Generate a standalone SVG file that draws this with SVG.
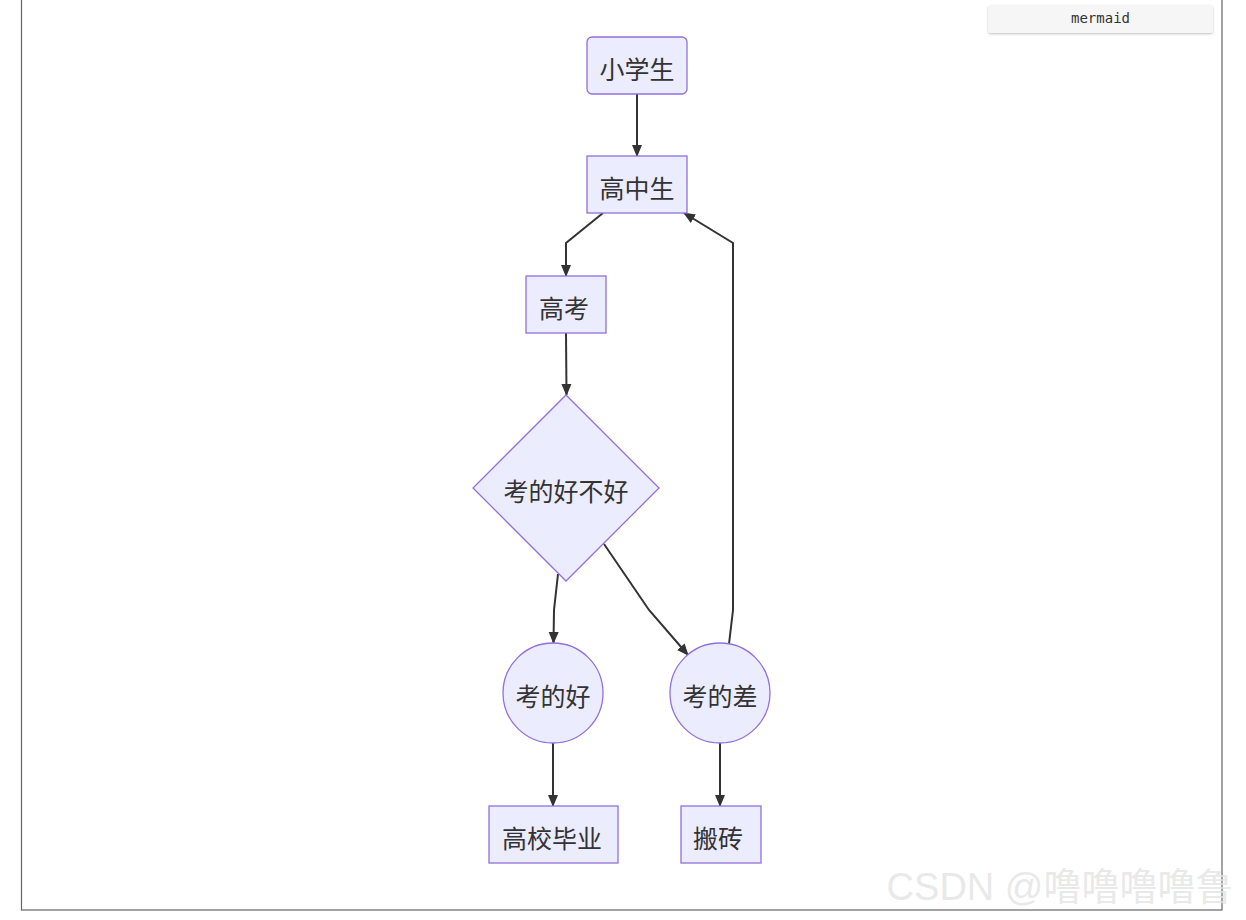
<svg xmlns="http://www.w3.org/2000/svg" width="1246" height="920" viewBox="0 0 1246 920">
<defs>
<style>
.node{fill:#ECECFF;stroke:#9370DB;stroke-width:1.3}
.lbl{font-family:"Noto Sans CJK SC","Liberation Sans",sans-serif;font-size:25px;fill:#333;text-anchor:middle;dominant-baseline:central}
.edge{fill:none;stroke:#333;stroke-width:2}
</style>
<marker id="ah" viewBox="0 0 12 12" refX="11" refY="6" markerWidth="12" markerHeight="12" markerUnits="userSpaceOnUse" orient="auto">
<path d="M0,1 L12,6 L0,11 z" fill="#333"/>
</marker>
<filter id="sh" x="-10%" y="-30%" width="120%" height="160%">
<feDropShadow dx="0" dy="1" stdDeviation="0.8" flood-color="#000" flood-opacity="0.25"/>
</filter>
</defs>
<rect width="1246" height="920" fill="#fff"/>
<rect x="21.5" y="-2" width="1200.5" height="912" fill="none" stroke="#666" stroke-width="1.2"/>
<g id="btn">
<rect x="988" y="5" width="225" height="28" rx="3" fill="#f6f6f6" filter="url(#sh)"/>
<text x="1100.5" y="18" font-family="DejaVu Sans Mono,Liberation Mono,monospace" font-size="14" fill="#333" text-anchor="middle" dominant-baseline="central">mermaid</text>
</g>
<g id="connectors">
<path class="edge" d="M637,94 L637,156" marker-end="url(#ah)"/>
<path class="edge" d="M603,213 L566,243 L566,276" marker-end="url(#ah)"/>
<path class="edge" d="M566,333 L566.5,395" marker-end="url(#ah)"/>
<path class="edge" d="M558,574 L554,610 L553.5,643" marker-end="url(#ah)"/>
<path class="edge" d="M604,544 L649,610 L688,655" marker-end="url(#ah)"/>
<path class="edge" d="M729,644 L733,610 L733,243 L684,213" marker-end="url(#ah)"/>
<path class="edge" d="M553,743 L553,806" marker-end="url(#ah)"/>
<path class="edge" d="M720,743 L720,806" marker-end="url(#ah)"/>
</g>
<g id="n1"><rect class="node" x="587" y="37" width="100" height="57" rx="5"/><text class="lbl" x="637" y="68">小学生</text></g>
<g id="n2"><rect class="node" x="587" y="156" width="100" height="57"/><text class="lbl" x="637" y="187">高中生</text></g>
<g id="n3"><rect class="node" x="526" y="276" width="80" height="57"/><text class="lbl" x="564" y="307">高考</text></g>
<g id="n4"><polygon class="node" points="566,395 659,488 566,581 473,488"/><text class="lbl" x="566" y="490">考的好不好</text></g>
<g id="n5"><circle class="node" cx="553" cy="693" r="50"/><text class="lbl" x="553" y="695">考的好</text></g>
<g id="n6"><circle class="node" cx="720" cy="693" r="50"/><text class="lbl" x="720" y="695">考的差</text></g>
<g id="n7"><rect class="node" x="489" y="806" width="129" height="57"/><text class="lbl" x="552" y="837">高校毕业</text></g>
<g id="n8"><rect class="node" x="681" y="806" width="80" height="57"/><text class="lbl" x="718" y="837">搬砖</text></g>
<text x="1060" y="887" font-family="Liberation Sans,Noto Sans CJK SC,sans-serif" font-size="38" fill="#e4e4e4" fill-opacity="0.8" text-anchor="middle" dominant-baseline="central">CSDN @噜噜噜噜鲁</text>
</svg>
